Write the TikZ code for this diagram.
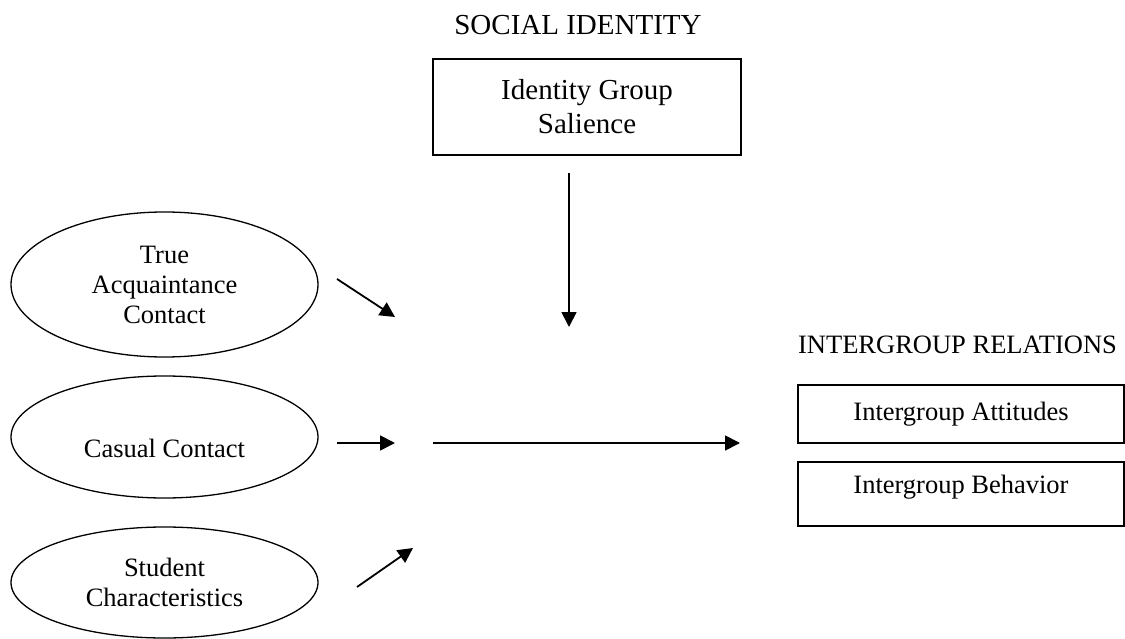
\documentclass[tikz,border=0pt]{standalone}
\usepackage{fontspec}
\setmainfont{Liberation Serif}
\usetikzlibrary{shapes.geometric,arrows.meta}
\tikzset{
  txt/.style={font=\fontsize{26.5}{30}\selectfont, align=center, inner sep=0pt},
  bigtxt/.style={font=\fontsize{29}{34}\selectfont, align=center, inner sep=0pt},
  oval/.style={ellipse, draw, line width=1.3pt, inner sep=0pt, txt},
  boxnode/.style={draw, line width=1.5pt, inner sep=0pt, txt},
  arr/.style={line width=1.8pt, -{Triangle[length=15pt,width=15pt]}},
}
\begin{document}
\begin{tikzpicture}[x=1pt,y=-1pt]
\useasboundingbox (0,0) rectangle (1125,639);
% social identity
\node[bigtxt] (soc) at (578,25) {SOCIAL IDENTITY};
\node[boxnode, bigtxt, minimum width=308pt, minimum height=96pt] (igs) at (587,107) {Identity Group\\Salience};
% contact ellipses
\node[oval, minimum width=307pt, minimum height=145pt] (tac) at (164.5,284.5) {True\\Acquaintance\\Contact};
\node[oval, minimum width=307pt, minimum height=122pt, label={[txt,yshift=-11pt]center:Casual Contact}] (cc) at (164.5,437) {};
\node[oval, minimum width=307pt, minimum height=111pt] (sc) at (164.5,582.5) {Student\\Characteristics};
% intergroup relations
\node[txt] (igr) at (957.5,345) {INTERGROUP RELATIONS};
\node[boxnode, minimum width=326pt, minimum height=58pt] (iga) at (961,414) {Intergroup Attitudes};
\node[boxnode, minimum width=326pt, minimum height=64pt, label={[txt,yshift=7pt]center:Intergroup Behavior}] (igb) at (961,494) {};
% arrow end points
\coordinate (a1s) at (337,279); \coordinate (a1e) at (395,317);
\coordinate (a2s) at (337,443); \coordinate (a2e) at (395,443);
\coordinate (ms) at (433,443);  \coordinate (me) at (740,443);
\coordinate (a3s) at (357,587); \coordinate (a3e) at (413,548);
\coordinate (vs) at (569,173);  \coordinate (ve) at (569,327);
\draw[arr] (a1s) -- (a1e);
\draw[arr] (a2s) -- (a2e);
\draw[arr] (ms) -- (me);
\draw[arr] (a3s) -- (a3e);
\draw[arr] (vs) -- (ve);
\end{tikzpicture}
\end{document}
